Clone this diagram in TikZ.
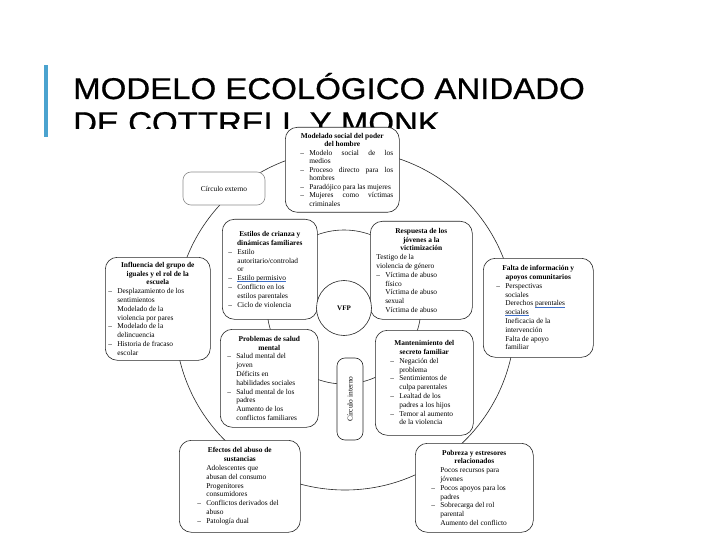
\documentclass[tikz,border=0pt]{standalone}
\usepackage{fontspec}
\setmainfont{Liberation Serif}
\newfontfamily\titulofont[FakeBold=0.7]{Liberation Sans}
\usepackage{graphicx}
\usetikzlibrary{positioning}

\definecolor{barra}{HTML}{4BA3CF}
\definecolor{trazo}{HTML}{262626}
\definecolor{subrayado}{HTML}{3F6FC8}

\hyphenpenalty=10000
\exhyphenpenalty=10000
\tolerance=9999
\hbadness=10000

% cabecera centrada y lineas con guion
\newcommand{\cab}[1]{{\noindent\centering\bfseries #1\par}}
\newcommand{\itm}[1]{\par\hangindent=9pt\hangafter=1\noindent\makebox[9pt][l]{--}#1\par}
\newcommand{\lin}[2][9pt]{\par\hangindent=#1\hangafter=0\noindent #2\par}
\newcommand{\subr}[1]{\setbox0\hbox{#1}\rlap{\color{subrayado}\rule[-1.6pt]{\wd0}{0.9pt}}\box0}

\begin{document}
\begin{tikzpicture}[x=1pt, y=-1pt,
    caja/.style={draw=trazo, line width=0.6pt, rounded corners=12pt, fill=white,
      anchor=north west, inner xsep=6pt, inner ysep=3pt, align=justify,
      font=\fontsize{7.4}{8.8}\selectfont},
    sangria/.style={execute at begin node={\leftskip=#1\relax}},
    anillo/.style={draw=trazo, line width=0.6pt},
    titulo/.style={anchor=base west, inner sep=0pt, font=\titulofont\fontsize{30}{34}\selectfont}]
  \useasboundingbox (0,0) rectangle (720,540);

  % titulo
  \fill[barra] (44,65) rectangle (47.5,137);
  \node[titulo] (tit1) at (73,99) {\scalebox{1.1}[1]{MODELO ECOLÓGICO ANIDADO}};
  \node[titulo] (tit2) at (73,133) {\scalebox{1.1}[1]{DE COTTRELL Y MONK}};
  \fill[white] (60,129) rectangle (650,540);

  % circulos
  \draw[anillo] (345,320) circle[radius=170pt];
  \draw[anillo] (344,307) circle[radius=77pt];

  \node[caja, text width=102pt, inner ysep=4pt, minimum height=85pt, sangria=9pt,
    font=\fontsize{7.4}{8.5}\selectfont] (poder) at (285,127) {%
    \cab{Modelado social del poder\\del hombre}
    \itm{Modelo social de los\linebreak medios}
    \itm{Proceso directo para los\linebreak hombres}
    \itm{Paradójico para las mujeres}
    \itm{Mujeres como víctimas\linebreak criminales}};

  \node[draw=black!45, line width=0.6pt, rounded corners=8pt, fill=white,
    minimum width=82pt, minimum height=33pt, font=\fontsize{7.4}{8.8}\selectfont]
    (externo) at (224,188.5) {Círculo externo};

  \node[caja, text width=99pt, minimum height=103pt, inner xsep=3pt] (iguales) at (105,257) {%
    \cab{Influencia del grupo de\\iguales y el rol de la\\escuela}
    \itm{Desplazamiento de los\newline sentimientos}
    \lin{Modelado de la\newline violencia por pares}
    \itm{Modelado de la\newline delincuencia}
    \itm{Historia de fracaso\newline escolar}};

  \node[caja, text width=83pt, minimum height=100pt] (crianza) at (222,219) {%
    \cab{Estilos de crianza y\\dinámicas familiares}
    \itm{Estilo\newline autoritario/controlad\newline or}
    \itm{\subr{Estilo permisivo}}
    \itm{Conflicto en los\newline estilos parentales}
    \itm{Ciclo de violencia}};

  \node[caja, text width=90pt, minimum height=98pt] (respuesta) at (370,221) {%
    \cab{Respuesta de los\\jóvenes a la\\victimización}
    \lin[0pt]{Testigo de la\newline violencia de género}
    \itm{Víctima de abuso\newline físico}
    \lin{Víctima de abuso\newline sexual}
    \lin{Víctima de abuso}};

  \node[caja, text width=96pt, minimum height=99pt, inner xsep=7pt, sangria=6pt] (apoyos) at (483,258) {%
    \cab{Falta de información y\\apoyos comunitarios}
    \itm{Perspectivas\newline sociales}
    \lin{Derechos \subr{parentales}\newline \subr{sociales}}
    \lin{Ineficacia de la\newline intervención}
    \lin{Falta de apoyo\newline familiar}};

  \node[caja, text width=84pt, minimum height=98pt, inner xsep=7pt] (salud) at (220,329) {%
    \cab{Problemas de salud\\mental}
    \itm{Salud mental del\newline joven}
    \lin{Déficits en\newline habilidades sociales}
    \itm{Salud mental de los\newline padres}
    \lin{Aumento de los\newline conflictos familiares}};

  \node[caja, text width=88pt, minimum height=105pt, inner xsep=5pt, sangria=10pt] (secreto) at (375,330) {%
    \cab{Mantenimiento del\\secreto familiar}
    \itm{Negación del\newline problema}
    \itm{Sentimientos de\newline culpa parentales}
    \itm{Lealtad de los\newline padres a los hijos}
    \itm{Temor al aumento\newline de la violencia}};

  \node[caja, text width=103pt, minimum height=92pt, inner xsep=9pt, sangria=9pt] (sustancias) at (179,440) {%
    \cab{Efectos del abuso de\\sustancias}
    \lin{Adolescentes que\newline abusan del consumo}
    \lin{Progenitores\newline consumidores}
    \itm{Conflictos derivados del\newline abuso}
    \itm{Patología dual}};

  \node[caja, text width=102pt, minimum height=89pt, inner xsep=8pt, sangria=8pt] (pobreza) at (415,443) {%
    \cab{Pobreza y estresores\\relacionados}
    \lin{Pocos recursos para\newline jóvenes}
    \itm{Pocos apoyos para los\newline padres}
    \itm{Sobrecarga del rol\newline parental}
    \lin{Aumento del conflicto}};

  % centro
  \node[draw=trazo, line width=0.6pt, circle, fill=white, minimum size=55pt, inner sep=0pt,
    font=\fontsize{7}{8}\bfseries] (vfp) at (344,308) {VFP};
  \node[draw=trazo, line width=0.6pt, rounded corners=8pt, fill=white, rotate=90,
    minimum width=82pt, minimum height=26pt, inner sep=1pt,
    font=\fontsize{7.4}{8.8}\selectfont] (interno) at (350,399) {Círculo interno};
\end{tikzpicture}
\end{document}
